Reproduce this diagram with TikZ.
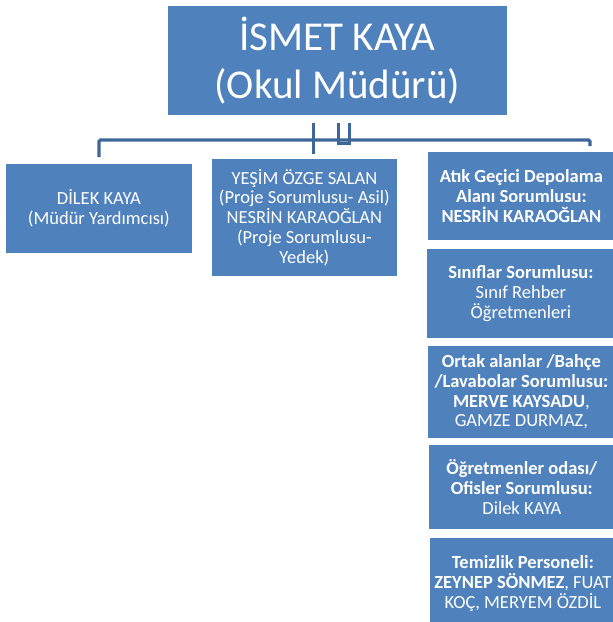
\documentclass[tikz,border=0pt]{standalone}
\usepackage{fontspec}
\setmainfont{Carlito}
\definecolor{boxblue}{RGB}{79,129,189}
\definecolor{linkblue}{RGB}{61,103,152}
\tikzset{
  orgbox/.style={draw=white,line width=0.8pt,fill=boxblue,text=white,align=center,inner sep=0pt,anchor=north west},
  small/.style={font=\fontsize{18.5}{19.7}\selectfont},
  link/.style={draw=linkblue,line width=3.2pt,rounded corners=1.5pt}
}
\begin{document}
\begin{tikzpicture}[x=1pt,y=-1pt]
\useasboundingbox (0,0) rectangle (613,622);
\clip (0,0) rectangle (613,622);
% top
\node[orgbox,minimum width=340,minimum height=110,font=\fontsize{41}{48}\selectfont] (mudur) at (167,5) {İSMET KAYA\\(Okul Müdürü)};
% second row
\node[orgbox,small,minimum width=187,minimum height=90] (dilek) at (5,163) {DİLEK KAYA\\(Müdür Yardımcısı)};
\node[orgbox,small,minimum width=186,minimum height=118] (proje) at (211,158) {YEŞİM ÖZGE SALAN\\(Proje Sorumlusu- Asil)\\NESRİN KARAOĞLAN\\(Proje Sorumlusu-\\Yedek)};
% right column
\node[orgbox,small,minimum width=188,minimum height=89] (atik) at (427,151) {\textbf{Atık Geçici Depolama}\\\textbf{Alanı Sorumlusu:}\\\textbf{NESRİN KARAOĞLAN}};
\node[orgbox,small,minimum width=189,minimum height=90] (sinif) at (426,248) {\textbf{Sınıflar Sorumlusu:}\\Sınıf Rehber\\Öğretmenleri};
\node[orgbox,small,minimum width=188,minimum height=93] (ortak) at (427,345) {\textbf{Ortak alanlar /Bahçe}\\\textbf{/Lavabolar Sorumlusu:}\\\textbf{MERVE KAYSADU}, \\GAMZE DURMAZ,};
\node[orgbox,small,minimum width=187,minimum height=85] (ogretmen) at (428,444) {\textbf{Öğretmenler odası/}\\\textbf{Ofisler Sorumlusu:}\\Dilek KAYA};
\node[orgbox,small,minimum width=187,minimum height=92] (temizlik) at (429,537) {\textbf{Temizlik Personeli:}\\\textbf{ZEYNEP SÖNMEZ}, FUAT\\KOÇ, MERYEM ÖZDİL};
% connectors
\coordinate (busR) at (590,140);
\draw[link] ([yshift=6pt]dilek.north) |- (busR) -- ++(0,6);
\draw[link] ([xshift=-24pt,yshift=-7pt]mudur.south) -- ++(0,31);
\draw[link,rounded corners=0pt] ([xshift=1pt,yshift=-7pt]mudur.south) -- ++(0,21) -- ++(11,0) -- ++(0,-21);
\end{tikzpicture}
\end{document}
